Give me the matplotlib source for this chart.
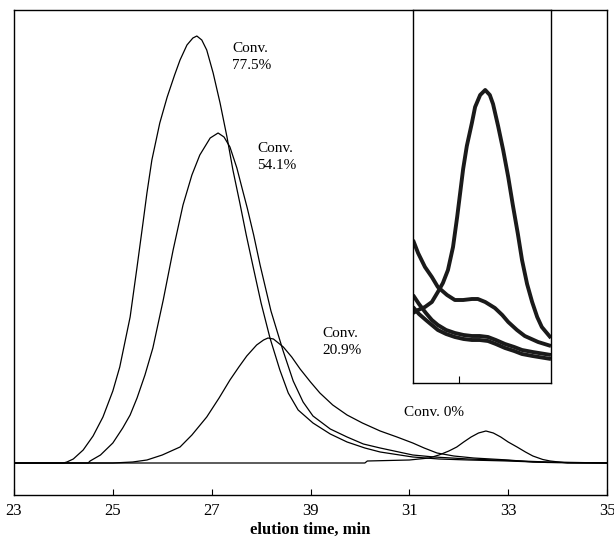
import matplotlib
matplotlib.use("Agg")
import matplotlib.pyplot as plt

# ---- data ----
t_775 = [23.0, 24.0, 24.07, 24.2, 24.40, 24.6, 24.80, 25.0, 25.14, 25.35, 25.49, 25.61, 25.69, 25.79,
         25.95, 26.10, 26.25, 26.36, 26.50, 26.62, 26.70, 26.80, 26.90, 27.03, 27.17, 27.31, 27.43,
         27.57, 27.70, 27.84, 28.0, 28.18, 28.38, 28.55, 28.75, 29.05, 29.4, 29.74, 30.1, 30.41,
         31.07, 31.6, 32.2, 33.0, 33.8, 35.0]
s_775 = [0, 0, 1, 4, 13, 27, 46, 72, 96, 146, 196, 240, 270, 303,
         340, 366, 388, 403, 418, 425, 427, 423, 413, 390, 360, 326, 293,
         260, 228, 196, 160, 125, 93, 70, 53, 40, 29, 21, 15, 11,
         6, 4, 3, 2, 0.5, 0]

t_541 = [23.0, 24.5, 24.54, 24.75, 25.0, 25.2, 25.35, 25.49, 25.65, 25.81, 26.02, 26.22, 26.42, 26.6,
         26.76, 26.97, 27.13, 27.25, 27.37, 27.51, 27.63, 27.72, 27.85, 27.98, 28.2, 28.44, 28.65,
         28.85, 29.05, 29.4, 29.74, 30.07, 30.41, 31.07, 31.5, 32.2, 33.0, 33.8, 35.0]
s_541 = [0, 0, 2, 8, 20, 35, 48, 65, 88, 115, 163, 213, 258, 288,
         308, 325, 330, 326, 316, 295, 272, 255, 228, 198, 152, 113, 82,
         61, 47, 34, 26, 19, 15, 8, 6, 4, 2.5, 1, 0]

t_209 = [23.0, 25.0, 25.4, 25.69, 26.0, 26.36, 26.6, 26.9, 27.15, 27.37, 27.55, 27.71, 27.91, 28.05,
         28.14, 28.25, 28.45, 28.62, 28.79, 29.0, 29.19, 29.45, 29.74, 30.05, 30.41, 30.75, 31.07,
         31.3, 31.56, 31.9, 32.3, 33.0, 33.5, 34.0, 35.0]
s_209 = [0, 0, 1, 3, 8, 16, 28, 46, 65, 83, 96, 107, 118, 123,
         125, 124, 116, 106, 94, 81, 70, 58, 48, 40, 32, 26, 20,
         15, 10, 7, 5, 3, 1, 0.5, 0]

t_0 = [23.0, 30.1, 30.15, 31.0, 31.4, 31.6, 31.8, 31.96, 32.1, 32.25, 32.4, 32.55, 32.7, 32.85,
       33.0, 33.18, 33.35, 33.5, 33.7, 33.85, 34.2, 35.0]
s_0 = [0, 0, 2, 3, 5, 8, 12, 16, 21, 26, 30, 32, 30, 26,
       21, 16, 11, 7, 3.5, 2, 0, 0]

# inset curves
ti_a = [31.0, 31.11, 31.26, 31.41, 31.54, 31.65, 31.76, 31.87, 31.96, 32.09, 32.17, 32.28, 32.35,
        32.46, 32.57, 32.67, 32.74, 32.85, 32.96, 33.07, 33.17, 33.28, 33.37, 33.48, 33.59, 33.70,
        33.80, 34.0]
si_a = [70, 73, 76, 81, 91, 100, 113, 136, 166, 214, 237, 260, 276,
        288, 293, 288, 279, 257, 233, 206, 178, 149, 123, 99, 81, 66,
        56, 45]
ti_b = [31.0, 31.11, 31.26, 31.41, 31.54, 31.74, 31.91, 32.09, 32.28, 32.41, 32.57, 32.78, 32.94,
        33.07, 33.26, 33.43, 33.72, 34.0]
si_b = [143, 130, 116, 106, 96, 88, 83, 83, 84, 84, 81, 75, 68,
        61, 53, 47, 41, 37]
ti_c = [31.0, 31.13, 31.28, 31.41, 31.54, 31.72, 31.91, 32.1, 32.28, 32.45, 32.63, 32.8, 33.0,
        33.2, 33.37, 33.6, 34.0]
si_c = [88, 79, 70, 63, 58, 53, 50, 48, 47, 47, 46, 43, 39,
        36, 33, 31, 28]
ti_d = [31.0, 31.13, 31.28, 31.41, 31.54, 31.72, 31.91, 32.1, 32.28, 32.45, 32.63, 32.8, 33.0,
        33.2, 33.37, 33.6, 34.0]
si_d = [76, 69, 63, 58, 53, 49, 46, 44, 43, 43, 42, 39, 35,
        32, 29, 27, 24]

xticks = [23, 25, 27, 29, 31, 33, 35]
xticklabels = ["23", "25", "27", "39", "31", "33", "35"]

labels = ["Conv.\n77.5%", "Conv.\n54.1%", "Conv.\n20.9%", "Conv. 0%"]
label_t = [27.41, 27.92, 29.25, 30.9]
label_s = [421, 321, 136, 57]

plt.rcParams['font.family'] = ['Liberation Serif', 'DejaVu Serif']

fig = plt.figure(figsize=(6.14, 5.38), dpi=100)
ax = fig.add_axes([14/614, 43/538, 593/614, 485/538])

for t, s in [(t_775, s_775), (t_541, s_541), (t_209, s_209), (t_0, s_0)]:
    ax.plot(t, s, color="black", lw=0.9)

ax.set_xlim(23, 35)
ax.set_ylim(-32, 453)
ax.set_xticks(xticks)
ax.set_xticklabels(xticklabels, fontsize=12)
ax.set_yticks([])
ax.tick_params(axis="x", direction="in", length=4, pad=6)
for sp in ax.spines.values():
    sp.set_linewidth(1.0)
ax.set_xlabel("elution time, min", fontsize=12, fontweight="bold", labelpad=2)

for txt, tx, sy in zip(labels, label_t, label_s):
    ax.text(tx, sy, txt, fontsize=11, ha="left", va="top", linespacing=1.4)

# inset
axi = fig.add_axes([413/614, 155/538, 138/614, 373/538])
for t, s in [(ti_a, si_a), (ti_b, si_b), (ti_c, si_c), (ti_d, si_d)]:
    axi.plot(t, s, color="#1a1a1a", lw=2.8, solid_capstyle="butt")
axi.set_xlim(31, 34)
axi.set_ylim(0, 373)
axi.set_xticks([32])
axi.set_xticklabels([])
axi.set_yticks([])
axi.tick_params(axis="x", direction="in", length=5)
for sp in axi.spines.values():
    sp.set_linewidth(1.0)

fig.savefig("out.png", dpi=100)
